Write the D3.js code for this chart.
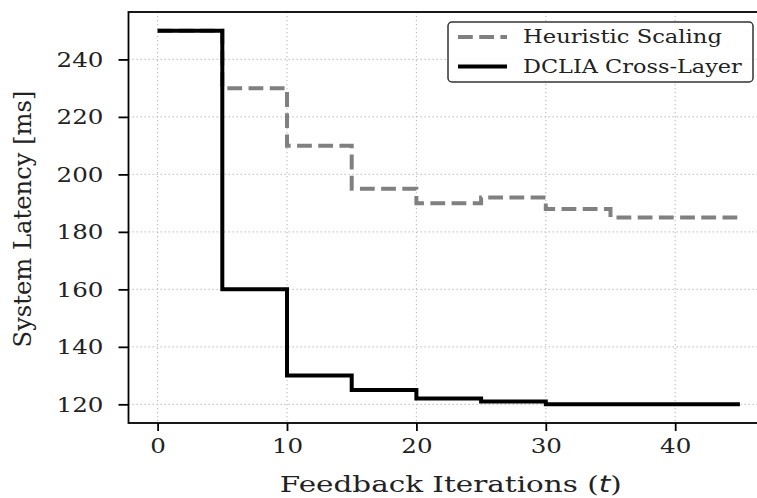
<!DOCTYPE html>
<html>
<head>
<meta charset="utf-8">
<script src="https://cdn.jsdelivr.net/npm/d3@7"></script>
<style>
  body { margin: 0; background: #fff; }
  svg { display: block; }
</style>
</head>
<body>
<script>

var iterations = [0, 5, 10, 15, 20, 25, 30, 35, 40, 45];
var heuristic  = [250, 230, 210, 195, 190, 192, 188, 185, 185, 185];
var dclia      = [250, 160, 130, 125, 122, 121, 120, 120, 120, 120];
var xTicks = [0, 10, 20, 30, 40];
var yTicks = [120, 140, 160, 180, 200, 220, 240];
var seriesNames = ["Heuristic Scaling", "DCLIA Cross-Layer"];

var W = 757, H = 498;
var margin = {top: 12, right: -12, bottom: 75, left: 128.5},
	width = W - margin.left - margin.right,
	height = H - margin.top - margin.bottom;

var font = "'DejaVu Serif', serif";
var tickStretch = 1.17;

var x = d3.scaleLinear()
	.domain([-2.25, 47.25])
	.range([0, width]);

var y = d3.scaleLinear()
	.domain([113.5, 256.5])
	.range([height, 0]);

var svg = d3.select("body").append("svg")
	.attr("width", W)
	.attr("height", H)
  .append("g")
	.attr("transform", "translate(" + margin.left + "," + margin.top + ")");

// the source picture's text is a bit wider than the font; stretch it to a target length
function stretchTo(sel, target, base) {
	var len = sel.node().getComputedTextLength();
	sel.attr("transform", base + " scale(" + (target / len) + ",1)");
}

// dotted grid
svg.append("g")
	.selectAll("line")
	.data(xTicks)
	.enter().append("line")
	.attr("x1", function(d) { return x(d); })
	.attr("x2", function(d) { return x(d); })
	.attr("y1", 0)
	.attr("y2", height)
	.style("stroke", "#c0c0c0")
	.style("stroke-width", 1.2)
	.style("stroke-dasharray", "1.3,2.7");

svg.append("g")
	.selectAll("line")
	.data(yTicks)
	.enter().append("line")
	.attr("x1", 0)
	.attr("x2", width)
	.attr("y1", function(d) { return y(d); })
	.attr("y2", function(d) { return y(d); })
	.style("stroke", "#c0c0c0")
	.style("stroke-width", 1.2)
	.style("stroke-dasharray", "1.3,2.7");

var pts = function(vals) {
	return iterations.map(function(t, i) { return [t, vals[i]]; });
};

var line = d3.line()
	.curve(d3.curveStepAfter)
	.x(function(d) { return x(d[0]); })
	.y(function(d) { return y(d[1]); });

svg.append("path")
	.attr("d", line(pts(heuristic)))
	.style("fill", "none")
	.style("stroke", "#808080")
	.style("stroke-width", 4)
	.style("stroke-dasharray", "14.8,6.4");

svg.append("path")
	.attr("d", line(pts(dclia)))
	.style("fill", "none")
	.style("stroke", "#000")
	.style("stroke-width", 4);

// axes
var xAxis = svg.append("g")
	.attr("transform", "translate(0," + height + ")")
	.call(d3.axisBottom(x).tickValues(xTicks).tickSize(8).tickPadding(7).tickFormat(d3.format("d")));

var yAxis = svg.append("g")
	.call(d3.axisLeft(y).tickValues(yTicks).tickSize(10).tickPadding(15).tickFormat(d3.format("d")));

[xAxis, yAxis].forEach(function(a) {
	a.select(".domain").remove();
	a.selectAll("line").style("stroke", "#000").style("stroke-width", 1.8);
	a.selectAll("text")
		.style("font-family", font)
		.style("font-size", "21px")
		.style("fill", "#222")
		.attr("transform", function() {
			var tx = +d3.select(this).attr("x") || 0;
			return "translate(" + tx + ",0) scale(" + tickStretch + ",1)";
		})
		.attr("x", 0);
});

svg.append("rect")
	.attr("width", width)
	.attr("height", height)
	.style("fill", "none")
	.style("stroke", "#000")
	.style("stroke-width", 1.8);

// axis labels
var xl = svg.append("text")
	.attr("text-anchor", "middle")
	.style("font-family", font)
	.style("font-size", "23px")
	.style("fill", "#222")
	.html("Feedback Iterations (<tspan font-style='italic' font-family='DejaVu Sans'>t</tspan>)");
stretchTo(xl, 342, "translate(" + (x(22.5) + 2) + "," + (height + 68.5) + ")");

var yl = svg.append("text")
	.attr("text-anchor", "middle")
	.style("font-family", font)
	.style("font-size", "24px")
	.style("fill", "#222")
	.text("System Latency [ms]");
stretchTo(yl, 257, "translate(" + (-98) + "," + 207 + ") rotate(-90)");

// legend
var legend = svg.append("g")
	.attr("transform", "translate(" + (448 - margin.left) + "," + (22 - margin.top) + ")");

legend.append("rect")
	.attr("width", 305)
	.attr("height", 60)
	.attr("rx", 4)
	.style("fill", "#fff")
	.style("fill-opacity", 0.85)
	.style("stroke", "#333")
	.style("stroke-width", 1.5);

var styles = [
	{color: "#808080", dash: "14.8,6.4"},
	{color: "#000", dash: null}
];
var labelWidths = [199, 219];

seriesNames.forEach(function(name, i) {
	var row = legend.append("g")
		.attr("transform", "translate(0," + (15 + i * 29.5) + ")");
	row.append("line")
		.attr("x1", 10)
		.attr("x2", 59)
		.style("stroke", styles[i].color)
		.style("stroke-width", 4)
		.style("stroke-dasharray", styles[i].dash);
	var t = row.append("text")
		.attr("dy", "0.35em")
		.style("font-family", font)
		.style("font-size", "18.5px")
		.style("fill", "#222")
		.text(name);
	stretchTo(t, labelWidths[i], "translate(75,0)");
});

</script>
</body>
</html>
